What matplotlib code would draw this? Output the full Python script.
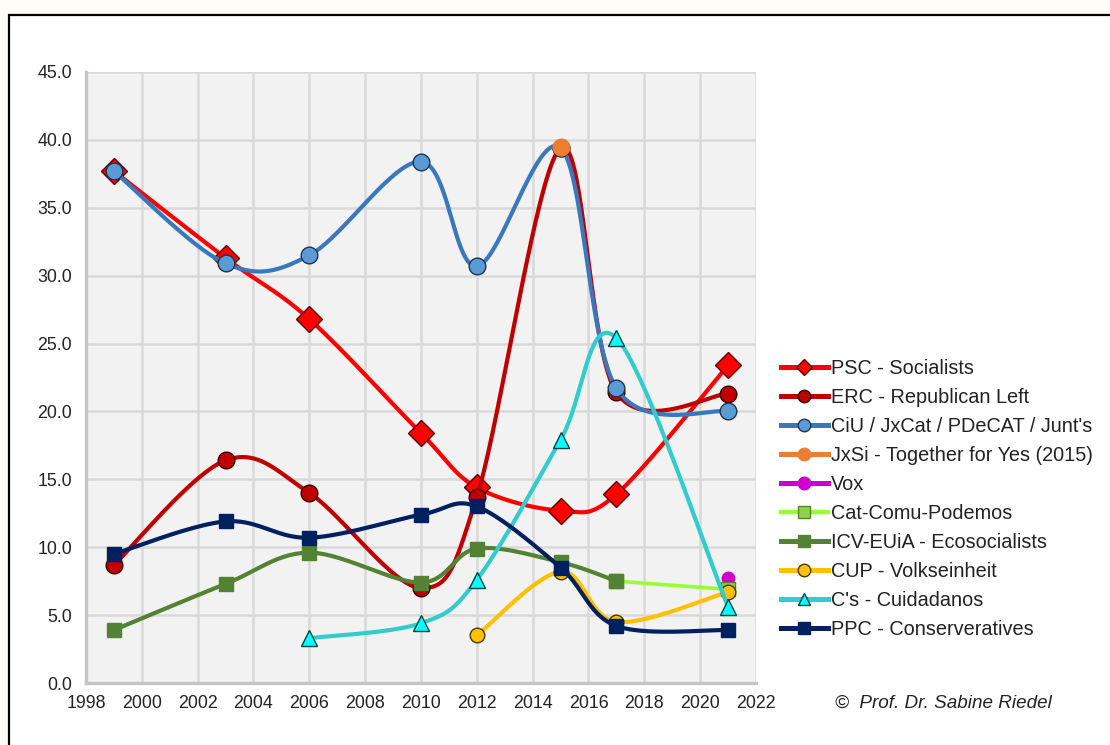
import numpy as np
import matplotlib
matplotlib.use("Agg")
import matplotlib.pyplot as plt
from matplotlib.lines import Line2D
from matplotlib.patches import Rectangle

plt.rcParams['font.family'] = ['Liberation Sans', 'DejaVu Sans']

# ---------------- data ----------------
psc_years = [1999, 2003, 2006, 2010, 2012, 2015, 2017, 2021]
psc_vals = [37.7, 31.3, 26.8, 18.4, 14.4, 12.7, 13.9, 23.4]

erc_years = [1999, 2003, 2006, 2010, 2012, 2015, 2017, 2021]
erc_vals = [8.7, 16.4, 14.0, 7.0, 13.7, 39.4, 21.4, 21.3]

ciu_years = [1999, 2003, 2006, 2010, 2012, 2015, 2017, 2021]
ciu_vals = [37.7, 30.9, 31.5, 38.4, 30.7, 39.4, 21.7, 20.0]

jxsi_years = [2015]
jxsi_vals = [39.5]

vox_years = [2021]
vox_vals = [7.7]

comu_years = [2017, 2021]
comu_vals = [7.5, 6.9]

icv_years = [1999, 2003, 2006, 2010, 2012, 2015, 2017]
icv_vals = [3.9, 7.3, 9.6, 7.4, 9.9, 8.9, 7.5]

cup_years = [2012, 2015, 2017, 2021]
cup_vals = [3.5, 8.2, 4.5, 6.7]

cs_years = [2006, 2010, 2012, 2015, 2017, 2021]
cs_vals = [3.3, 4.4, 7.6, 17.9, 25.4, 5.6]

ppc_years = [1999, 2003, 2006, 2010, 2012, 2015, 2017, 2021]
ppc_vals = [9.5, 11.9, 10.7, 12.4, 13.0, 8.5, 4.2, 3.9]

labels = ["PSC - Socialists", "ERC - Republican Left", "CiU / JxCat / PDeCAT / Junt's",
          "JxSi - Together for Yes (2015)", "Vox", "Cat-Comu-Podemos",
          "ICV-EUiA - Ecosocialists", "CUP - Volkseinheit", "C's - Cuidadanos",
          "PPC - Conserveratives"]

xticks = list(range(1998, 2023, 2))
yticks = [0, 5, 10, 15, 20, 25, 30, 35, 40, 45]

# ---------------- styles ----------------
series = [
    # years, vals, line color, marker, face, edge, marker size, legend msize, lw
    (psc_years, psc_vals, '#ff0000', 'D', '#ff0000', '#5a0000', 13, 8, 3.0),
    (erc_years, erc_vals, '#c00000', 'o', '#c00000', '#3a0000', 12, 9, 3.0),
    (ciu_years, ciu_vals, '#3a78bd', 'o', '#5b9bd5', '#1f3550', 12, 9, 3.0),
    (jxsi_years, jxsi_vals, '#ed7d31', 'o', '#ed7d31', '#ed7d31', 12, 9, 3.0),
    (vox_years, vox_vals, '#cc00cc', 'o', '#cc00cc', '#cc00cc', 9, 9, 3.0),
    (comu_years, comu_vals, '#99ff33', 's', '#92d050', '#4e8a1f', 10, 9, 2.6),
    (icv_years, icv_vals, '#548235', 's', '#548235', '#548235', 10, 9, 3.0),
    (cup_years, cup_vals, '#ffc000', 'o', '#ffc000', '#4a3a00', 10.5, 9, 3.0),
    (cs_years, cs_vals, '#33cccc', '^', '#00ffff', '#004444', 12, 9, 3.0),
    (ppc_years, ppc_vals, '#002060', 's', '#002060', '#002060', 10, 9, 3.0),
]


def excel_smooth(xs, ys, n=40):
    pts = np.column_stack([np.asarray(xs, float), np.asarray(ys, float)])
    if len(pts) < 2:
        return pts[:, 0], pts[:, 1]
    P = np.vstack([pts[0], pts, pts[-1]])
    out = [pts[0]]
    t = np.linspace(0, 1, n)[1:, None]
    for i in range(1, len(P) - 2):
        p0, p1, p2, p3 = P[i - 1], P[i], P[i + 1], P[i + 2]
        c1 = p1 + (p2 - p0) / 6.0
        c2 = p2 - (p3 - p1) / 6.0
        seg = ((1 - t) ** 3) * p1 + 3 * ((1 - t) ** 2) * t * c1 + 3 * (1 - t) * t ** 2 * c2 + t ** 3 * p2
        out.extend(seg)
    out = np.array(out)
    return out[:, 0], out[:, 1]


fig = plt.figure(figsize=(11.10, 7.45), dpi=100)
fig.patch.set_facecolor('#fdfcf6')
frame = Rectangle((9 / 1110, -0.02), 1.05, (745 - 15) / 745 + 0.02, transform=fig.transFigure,
                  facecolor='white', edgecolor='black', linewidth=1.6, zorder=-5)
fig.patches.append(frame)

ax = fig.add_axes([86 / 1110, 1 - 683 / 745, (756 - 86) / 1110, (683 - 72) / 745])
ax.set_zorder(1)
ax.set_facecolor('#f2f2f2')
ax.set_xlim(1998, 2022)
ax.set_ylim(0, 45)
ax.set_xticks(xticks)
ax.set_yticks(yticks)
ax.set_yticklabels([f"{v:.1f}" for v in yticks])
ax.grid(True, color='#d9d9d9', linewidth=1.8, zorder=0)
ax.set_axisbelow(True)
for s in ['top', 'right']:
    ax.spines[s].set_visible(False)
for s in ['left', 'bottom']:
    ax.spines[s].set_color('#c4c4c4')
    ax.spines[s].set_linewidth(2.4)
ax.tick_params(axis='both', length=0, labelsize=12.8, colors='#222222')
ax.tick_params(axis='y', pad=10)
ax.tick_params(axis='x', pad=9)

handles = []
for i, (xs, ys, lc, mk, fc, ec, ms, lms, lw) in enumerate(series):
    z = 3 + i * 0.1
    if len(xs) > 1:
        sx, sy = excel_smooth(xs, ys)
        ax.plot(sx, sy, color=lc, linewidth=lw, solid_capstyle='round', zorder=z)
    ax.plot(xs, ys, linestyle='none', marker=mk, markersize=ms, markerfacecolor=fc,
            markeredgecolor=ec, markeredgewidth=1.0, zorder=z + 0.05)
    handles.append(Line2D([], [], color=lc, linewidth=lw + 0.6, marker=mk, markersize=lms,
                          markerfacecolor=fc, markeredgecolor=ec, markeredgewidth=1.0))

leg = fig.legend(handles, labels, loc='upper left', bbox_to_anchor=(781 / 1110, 1 - 359 / 745),
                 frameon=False, fontsize=14.3, handlelength=2.36, handletextpad=0.15,
                 labelspacing=0.505, borderaxespad=0, borderpad=0)
for t in leg.get_texts():
    t.set_color('#222222')

fig.text(835 / 1110, 1 - 703 / 745, "\u00a9  Prof. Dr. Sabine Riedel", fontsize=13.6,
         style='italic', va='center', ha='left', color='#222222')

fig.savefig('out.png', dpi=100, facecolor=fig.get_facecolor())
